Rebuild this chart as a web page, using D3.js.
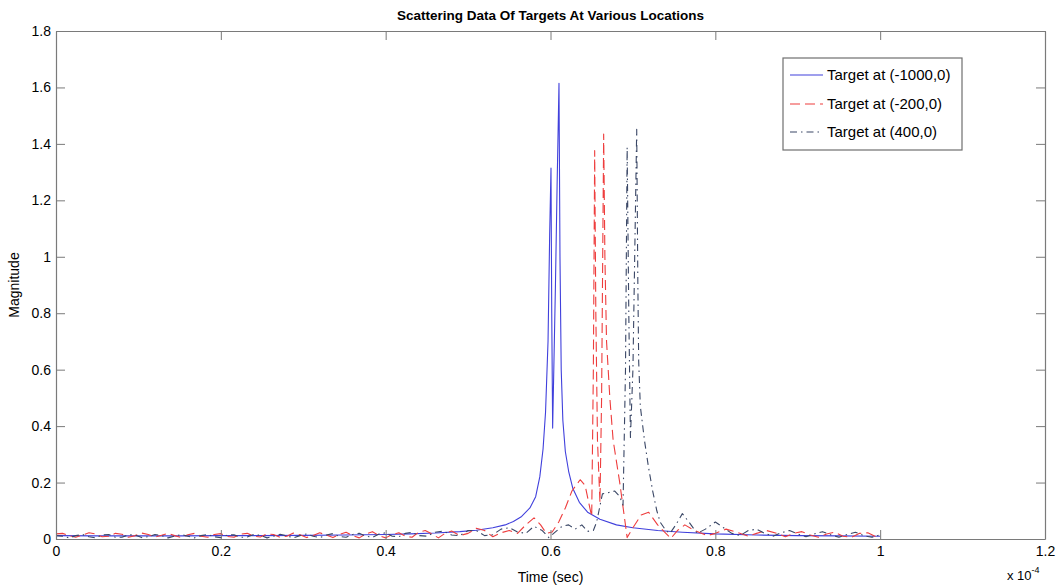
<!DOCTYPE html>
<html>
<head>
<meta charset="utf-8">
<script src="https://cdn.jsdelivr.net/npm/d3@7"></script>
<style>
  html, body { margin: 0; padding: 0; background: #fff; }
  svg { display: block; }
  text { font-family: "Liberation Sans", Arial, sans-serif; fill: #000; }
</style>
</head>
<body>
<svg id="chart" width="1058" height="586"></svg>
<script>
// ---- Data (time in units of 1e-4 s) ----
const chartTitle = "Scattering Data Of Targets At Various Locations";
const xLabel = "Time (sec)";
const yLabel = "Magnitude";
const xTicks = [0, 0.2, 0.4, 0.6, 0.8, 1, 1.2];
const yTicks = [0, 0.2, 0.4, 0.6, 0.8, 1, 1.2, 1.4, 1.6, 1.8];
const seriesNames = ["Target at (-1000,0)", "Target at (-200,0)", "Target at (400,0)"];

const blueTime = [0,0.05,0.1,0.15,0.2,0.25,0.3,0.35,0.4,0.43,0.46,0.49,0.51,0.53,0.545,0.555,0.565,0.575,0.582,0.587,0.591,0.594,0.597,0.599,0.6006,0.6015,0.6026,0.604,0.606,0.608,0.6103,0.6115,0.613,0.615,0.618,0.622,0.627,0.635,0.645,0.66,0.68,0.7,0.73,0.76,0.8,0.85,0.9,0.95,1.0];
const blueMag  = [0.012,0.011,0.011,0.011,0.012,0.012,0.013,0.014,0.016,0.018,0.021,0.026,0.031,0.04,0.05,0.062,0.08,0.11,0.15,0.22,0.32,0.45,0.7,1.08,1.314,0.8,0.393,0.6,0.9,1.25,1.615,1.0,0.6,0.42,0.31,0.24,0.18,0.13,0.095,0.07,0.05,0.04,0.03,0.024,0.018,0.014,0.012,0.011,0.01];

const redTime = [0,0.008,0.016,0.024,0.032,0.04,0.048,0.056,0.064,0.072,0.08,0.088,0.096,0.104,0.112,0.12,0.128,0.136,0.144,0.152,0.16,0.168,0.176,0.184,0.192,0.2,0.208,0.216,0.224,0.232,0.24,0.248,0.256,0.264,0.272,0.28,0.288,0.296,0.304,0.312,0.32,0.328,0.336,0.344,0.352,0.36,0.368,0.376,0.384,0.392,0.4,0.408,0.416,0.424,0.432,0.44,0.448,0.456,0.464,0.472,0.48,0.49,0.5,0.51,0.52,0.53,0.54,0.55,0.56,0.57,0.58,0.588,0.595,0.602,0.61,0.618,0.626,0.636,0.642,0.647,0.65,0.652,0.6536,0.655,0.657,0.66,0.662,0.6645,0.666,0.668,0.672,0.676,0.684,0.69,0.693,0.7,0.71,0.719,0.73,0.746,0.754,0.763,0.775,0.79,0.8,0.813,0.825,0.84,0.85,0.862,0.875,0.885,0.895,0.905,0.915,0.925,0.935,0.945,0.955,0.965,0.975,0.985,0.995,1.0];
const redMag  = [0.018,0.02,0.012,0.006,0.014,0.022,0.018,0.008,0.01,0.02,0.017,0.006,0.012,0.021,0.016,0.007,0.013,0.02,0.012,0.005,0.015,0.02,0.01,0.006,0.016,0.019,0.009,0.006,0.017,0.02,0.01,0.007,0.018,0.016,0.006,0.01,0.021,0.015,0.005,0.012,0.022,0.014,0.005,0.016,0.024,0.012,0.004,0.018,0.026,0.012,0.004,0.016,0.022,0.01,0.006,0.024,0.03,0.018,0.004,0.02,0.028,0.012,0.02,0.038,0.03,0.008,0.022,0.03,0.02,0.05,0.075,0.05,0.02,0.025,0.06,0.11,0.17,0.21,0.19,0.12,0.08,0.6,1.376,0.8,0.35,0.13,0.5,1.435,1.0,0.7,0.5,0.35,0.2,0.07,0.005,0.04,0.085,0.095,0.05,0.002,0.03,0.05,0.03,0.012,0.02,0.035,0.025,0.01,0.02,0.03,0.02,0.008,0.02,0.026,0.014,0.006,0.018,0.024,0.01,0.006,0.02,0.022,0.008,0.012];

const greyTime = [0,0.008,0.016,0.024,0.032,0.04,0.048,0.056,0.064,0.072,0.08,0.088,0.096,0.104,0.112,0.12,0.128,0.136,0.144,0.152,0.16,0.168,0.176,0.184,0.192,0.2,0.208,0.216,0.224,0.232,0.24,0.248,0.256,0.264,0.272,0.28,0.288,0.296,0.304,0.312,0.32,0.328,0.336,0.344,0.352,0.36,0.368,0.376,0.384,0.392,0.4,0.408,0.416,0.424,0.432,0.44,0.45,0.46,0.47,0.48,0.49,0.5,0.51,0.52,0.53,0.54,0.55,0.56,0.57,0.58,0.59,0.598,0.606,0.614,0.622,0.63,0.638,0.645,0.652,0.656,0.663,0.671,0.678,0.684,0.688,0.691,0.693,0.695,0.697,0.7,0.7046,0.706,0.707,0.709,0.714,0.7186,0.724,0.729,0.733,0.74,0.745,0.752,0.76,0.768,0.778,0.788,0.8,0.81,0.82,0.83,0.84,0.85,0.86,0.87,0.88,0.89,0.9,0.91,0.92,0.93,0.94,0.95,0.96,0.97,0.98,0.99,1.0];
const greyMag  = [0.012,0.01,0.004,0.012,0.016,0.008,0.004,0.014,0.016,0.006,0.006,0.015,0.014,0.005,0.008,0.016,0.012,0.004,0.01,0.016,0.01,0.004,0.012,0.016,0.008,0.005,0.014,0.015,0.006,0.007,0.016,0.013,0.004,0.01,0.017,0.011,0.004,0.012,0.018,0.01,0.005,0.014,0.019,0.009,0.006,0.016,0.02,0.01,0.006,0.018,0.022,0.01,0.008,0.02,0.024,0.012,0.01,0.024,0.028,0.014,0.012,0.03,0.03,0.012,0.015,0.035,0.04,0.025,0.02,0.045,0.03,0.005,0.025,0.045,0.05,0.035,0.05,0.027,0.03,0.06,0.16,0.165,0.17,0.15,0.12,0.6,1.388,0.8,0.36,0.6,1.452,0.9,0.63,0.47,0.35,0.26,0.17,0.1,0.06,0.03,0.02,0.05,0.09,0.06,0.02,0.035,0.06,0.04,0.02,0.012,0.03,0.035,0.02,0.01,0.022,0.03,0.018,0.008,0.018,0.026,0.015,0.006,0.016,0.024,0.012,0.006,0.015];

const seriesColors = ["#4040dc", "#ee3d3d", "#3a4766"];
const seriesDash = [null, "10,5", "7,4,1.5,4"];

// ---- Layout ----
const svg = d3.select("#chart");
const m = { left: 56, right: 1045, top: 31, bottom: 539 };
const x = d3.scaleLinear().domain([0, 1.2]).range([m.left, m.right]);
const y = d3.scaleLinear().domain([0, 1.8]).range([m.bottom, m.top]);

svg.append("rect").attr("width", 1058).attr("height", 586).attr("fill", "#fff");

const series = [
  { name: seriesNames[0], t: blueTime, v: blueMag },
  { name: seriesNames[1], t: redTime, v: redMag },
  { name: seriesNames[2], t: greyTime, v: greyMag }
];

const line = d3.line().x(d => x(d[0])).y(d => y(d[1]));

svg.append("clipPath").attr("id", "pc").append("rect")
  .attr("x", m.left).attr("y", m.top).attr("width", m.right - m.left).attr("height", m.bottom - m.top);

const gLines = svg.append("g").attr("clip-path", "url(#pc)");
series.forEach((s, i) => {
  const pts = s.t.map((t, k) => [t, s.v[k]]);
  gLines.append("path")
    .attr("d", line(pts))
    .attr("fill", "none")
    .attr("stroke", seriesColors[i])
    .attr("stroke-width", 1.1)
    .attr("stroke-dasharray", seriesDash[i])
    .attr("stroke-linejoin", "round");
});

// ---- Axes (MATLAB-style box with inward ticks) ----
const axisColor = "#7a7a7a";
const tickLen = 9;
const fmt = d => String(d);

const xAxisB = d3.axisBottom(x).tickValues(xTicks).tickSizeInner(-tickLen).tickSizeOuter(0).tickPadding(7).tickFormat(fmt);
const xAxisT = d3.axisTop(x).tickValues(xTicks).tickSizeInner(-tickLen).tickSizeOuter(0).tickFormat("");
const yAxisL = d3.axisLeft(y).tickValues(yTicks).tickSizeInner(-tickLen).tickSizeOuter(0).tickPadding(5).tickFormat(fmt);
const yAxisR = d3.axisRight(y).tickValues(yTicks).tickSizeInner(-tickLen).tickSizeOuter(0).tickFormat("");

function styleAxis(g) {
  g.selectAll("path.domain").attr("stroke", axisColor).attr("stroke-width", 1.2);
  g.selectAll(".tick line").attr("stroke", axisColor).attr("stroke-width", 1);
  g.selectAll(".tick text").attr("fill", "#000").style("font-size", "14px")
    .style("font-family", "'Liberation Sans', Arial, sans-serif");
}

svg.append("g").attr("transform", `translate(0,${m.bottom})`).call(xAxisB).call(styleAxis);
svg.append("g").attr("transform", `translate(0,${m.top})`).call(xAxisT).call(styleAxis);
svg.append("g").attr("transform", `translate(${m.left},0)`).call(yAxisL).call(styleAxis);
svg.append("g").attr("transform", `translate(${m.right},0)`).call(yAxisR).call(styleAxis);

// ---- Titles ----
svg.append("text").attr("x", (m.left + m.right) / 2).attr("y", 20)
  .attr("text-anchor", "middle").style("font-size", "13.5px").style("font-weight", "bold")
  .text(chartTitle);

svg.append("text").attr("x", (m.left + m.right) / 2).attr("y", 582)
  .attr("text-anchor", "middle").style("font-size", "14px").text(xLabel);

svg.append("text").attr("transform", `translate(19,${(m.top + m.bottom) / 2}) rotate(-90)`)
  .attr("text-anchor", "middle").style("font-size", "14px").text(yLabel);

const expo = svg.append("text").attr("x", 1007).attr("y", 580).style("font-size", "13px");
expo.append("tspan").text("x 10");
expo.append("tspan").attr("dy", -7).style("font-size", "9px").text("-4");

// ---- Legend ----
const lg = svg.append("g");
lg.append("rect").attr("x", 783).attr("y", 58).attr("width", 179).attr("height", 92)
  .attr("fill", "#fff").attr("stroke", "#6f6f6f").attr("stroke-width", 1.2);
const legendY = [75, 104, 132];
series.forEach((s, i) => {
  lg.append("line").attr("x1", 790).attr("x2", 823).attr("y1", legendY[i]).attr("y2", legendY[i])
    .attr("stroke", seriesColors[i]).attr("stroke-width", 1.1).attr("stroke-dasharray", seriesDash[i]);
  lg.append("text").attr("x", 827).attr("y", legendY[i] + 5).style("font-size", "15px").text(s.name);
});
</script>
</body>
</html>
